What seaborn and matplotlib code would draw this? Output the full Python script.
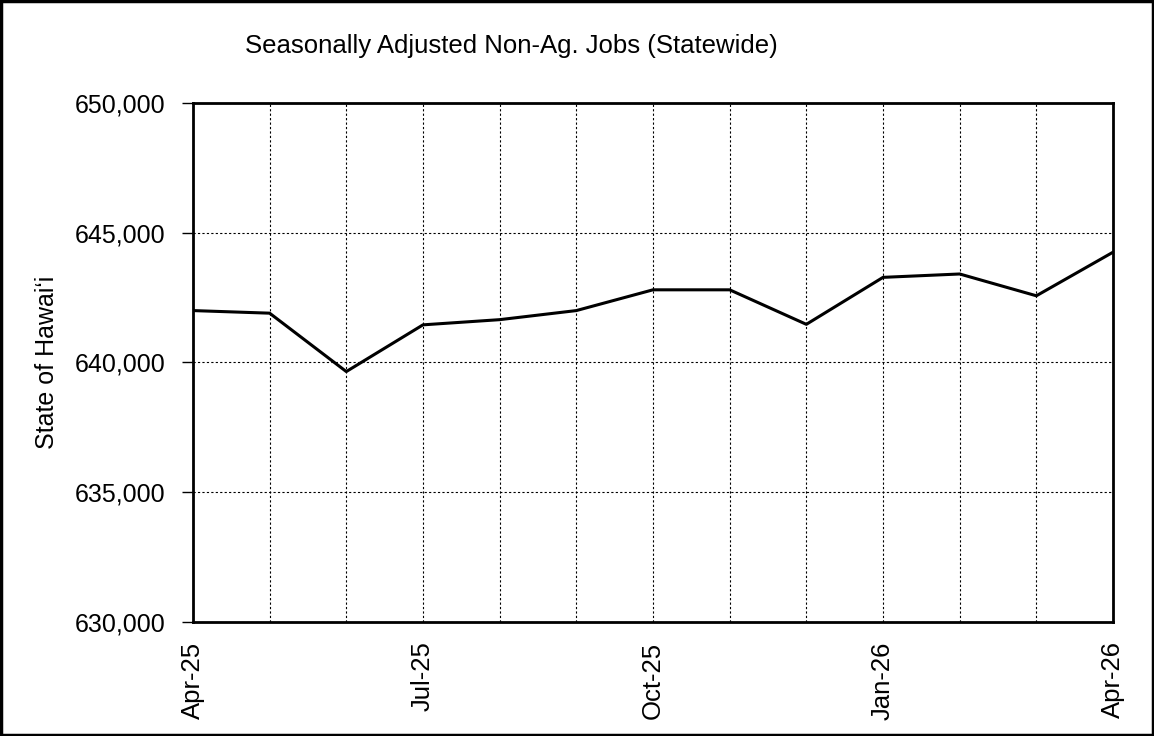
import matplotlib.pyplot as plt
import seaborn as sns
import pandas as pd
from matplotlib.patches import Rectangle
from matplotlib.ticker import FuncFormatter

# Serie mensual de empleos no agrícolas (ajustada estacionalmente)
months = ["Apr-25", "May-25", "Jun-25", "Jul-25", "Aug-25", "Sep-25", "Oct-25",
          "Nov-25", "Dec-25", "Jan-26", "Feb-26", "Mar-26", "Apr-26"]
jobs = [642000, 641900, 639650, 641450, 641650, 642000, 642800,
        642800, 641470, 643280, 643410, 642570, 644250]
yticks = [630000, 635000, 640000, 645000, 650000]
xtick_pos = [0, 3, 6, 9, 12]

sns.set_theme(style="white")
plt.rcParams['font.family'] = ['Liberation Sans', 'DejaVu Sans']

df = pd.DataFrame({"idx": range(len(months)), "jobs": jobs})

fig = plt.figure(figsize=(11.54, 7.36), dpi=100)
ax = fig.add_axes([0.1672, 0.1549, 0.7973, 0.7052])

sns.lineplot(data=df, x="idx", y="jobs", ax=ax, color="black", linewidth=2.2)

ax.set_xlim(0, len(months) - 1)
ax.set_ylim(yticks[0], yticks[-1])
ax.set_yticks(yticks)
ax.yaxis.set_major_formatter(FuncFormatter(lambda v, p: f"{int(v):,}"))
ax.set_xticks(range(len(months)), minor=True)
ax.set_xticks(xtick_pos)
ax.set_xticklabels([months[i] for i in xtick_pos], rotation=90)

ax.grid(True, which="both", axis="x", color="black", linestyle=(0, (2, 2)), linewidth=0.8)
ax.grid(True, which="major", axis="y", color="black", linestyle=(0, (2, 2)), linewidth=0.8)
ax.tick_params(axis="y", which="major", left=True, length=8, width=1, color="black",
               labelsize=18, pad=12, labelcolor="black")
ax.tick_params(axis="x", which="both", bottom=False, labelsize=18.5, pad=8, labelcolor="black")

for s in ax.spines.values():
    s.set_color("black")
    s.set_linewidth(2)

ax.set_xlabel("")
ax.set_ylabel("State of Hawai\u2018i", fontsize=18, color="black", labelpad=11)

fig.text(0.443, 0.938, "Seasonally Adjusted Non-Ag. Jobs (Statewide)",
         ha="center", va="center", fontsize=18.5, color="black")

# marco exterior
fig.patches.append(Rectangle((0.001, 0.001), 0.998, 0.997, transform=fig.transFigure,
                             fill=False, edgecolor="black", linewidth=2.5))

fig.savefig("out.png", dpi=100)
